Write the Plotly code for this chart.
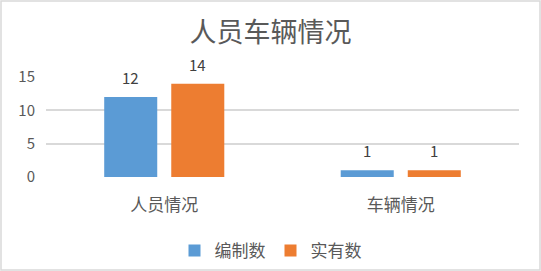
import plotly.graph_objects as go

categories = ["人员情况", "车辆情况"]
series_names = ["编制数", "实有数"]
bianzhi = [12, 1]
shiyou = [14, 1]
y_ticks = [0, 5, 10, 15]
title_text = "人员车辆情况"

colors = ["#5B9BD5", "#ED7D31"]
W, H = 541, 271
ml, mr, mt, mb = 46, 22, 77, 94
font_cjk = "Noto Sans CJK SC, Noto Sans, sans-serif"

fig = go.Figure()
for name, vals, col in zip(series_names, [bianzhi, shiyou], colors):
    fig.add_trace(go.Bar(x=categories, y=vals, name=name, marker_color=col,
                         marker_line_width=0))

# data labels
slot_px = 67
for i, vals in enumerate([bianzhi, shiyou]):
    shift = (-0.5 if i == 0 else 0.5) * slot_px
    for c, v in zip(categories, vals):
        fig.add_annotation(x=c, y=v, text=str(v), showarrow=False,
                           xshift=shift, yshift=7, yanchor="bottom",
                           font=dict(family=font_cjk, size=15, color="#404040"))

pw = W - ml - mr
ph = H - mt - mb
fig.add_shape(type="rect", xref="paper", yref="paper",
              x0=(-ml + 1) / pw, x1=1 + (mr - 1) / pw,
              y0=(-mb + 1) / ph, y1=1 + (mt - 1) / ph,
              line=dict(color="#D9D9D9", width=1.5), layer="below")

fig.update_layout(
    width=W, height=H,
    margin=dict(l=ml, r=mr, t=mt, b=mb),
    paper_bgcolor="white", plot_bgcolor="white",
    barmode="group", bargap=0.433, bargroupgap=0.209,
    title=dict(text=title_text, x=0.5, xref="container", y=1 - 33 / H,
               yref="container", xanchor="center", yanchor="middle",
               font=dict(family=font_cjk, size=27, color="#595959")),
    legend=dict(orientation="h", xref="container", yref="container",
                x=0.5, xanchor="center", y=1 - 251 / H, yanchor="middle",
                font=dict(family=font_cjk, size=17, color="#595959"),
                itemwidth=30, tracegroupgap=0),
    font=dict(family=font_cjk, color="#595959"),
)
fig.update_yaxes(range=[0, 15], tickvals=y_ticks, showgrid=True,
                 gridcolor="#D9D9D9", gridwidth=1.5, zeroline=False,
                 showline=False, ticks="", ticklabelstandoff=10,
                 tickfont=dict(family=font_cjk, size=15, color="#595959"))
fig.update_xaxes(showgrid=False, showline=False, ticks="",
                 ticklabelstandoff=16,
                 tickfont=dict(family=font_cjk, size=17, color="#595959"))

fig.write_html("out.html")
